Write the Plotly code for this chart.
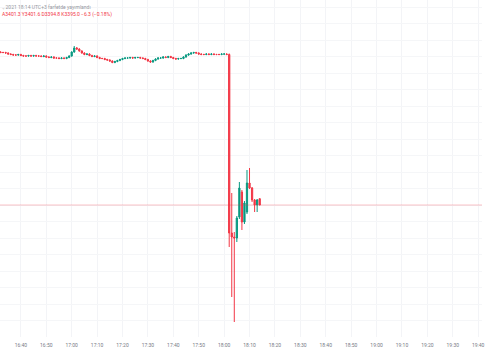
import pandas as pd
import plotly.graph_objects as go

opens = [
    3548, 3547.5, 3547.5, 3547, 3546, 3545.5, 3545, 3545, 3545.5, 3544.5,
    3544, 3544, 3544.5, 3544, 3544.5, 3544, 3544, 3543.5, 3544, 3543,
    3542.5, 3543, 3542, 3542, 3541.5, 3542, 3541.5, 3542.5, 3544, 3548,
    3552, 3551, 3549, 3547, 3545.5, 3546, 3544.5, 3543.5, 3544, 3542.5,
    3541.5, 3541.5, 3540.5, 3540, 3539, 3537.5, 3538.5, 3539.5, 3540.5, 3541.5,
    3542, 3542, 3542.5, 3542, 3542.5, 3542.5, 3542, 3541.5, 3540.5, 3539,
    3538, 3539.5, 3541, 3542, 3542, 3543, 3542.5, 3543.5, 3542.5, 3541.5,
    3541, 3541.5, 3541.5, 3543, 3545, 3546, 3547, 3547.5, 3547, 3546,
    3545.5, 3545.5, 3546, 3545.5, 3546, 3545.5, 3545.5, 3545.5, 3546, 3546,
    3545.5, 3367, 3363, 3362, 3383, 3408, 3378, 3388, 3417, 3412, 3400, 3395, 3401.3,
]
highs = [
    3548.7, 3548.2, 3548.2, 3547.7, 3546.7, 3546.2, 3545.7, 3546.2, 3546.2, 3545.2,
    3544.7, 3545.2, 3545.2, 3545.2, 3545.2, 3544.7, 3544.7, 3544.7, 3544.7, 3543.7,
    3543.7, 3543.7, 3542.7, 3542.7, 3542.7, 3542.7, 3543.2, 3544.7, 3548.7, 3554,
    3553, 3551.7, 3549.7, 3547.7, 3546.7, 3546.7, 3545.2, 3544.7, 3544.7, 3543.2,
    3542.2, 3542.2, 3541.2, 3540.7, 3539.7, 3539.2, 3540.2, 3541.2, 3542.2, 3542.7,
    3542.7, 3543.2, 3543.2, 3543.2, 3543.2, 3543.2, 3542.7, 3542.2, 3541.2, 3539.7,
    3540.2, 3541.7, 3542.7, 3542.7, 3543.7, 3543.7, 3544.2, 3544.2, 3543.2, 3542.2,
    3542.2, 3542.2, 3543.7, 3545.7, 3546.7, 3547.7, 3548.2, 3548.2, 3547.7, 3546.7,
    3546.2, 3546.7, 3546.7, 3546.7, 3546.7, 3546.2, 3546.2, 3546.7, 3546.7, 3546.7,
    3546.5, 3407, 3368, 3384, 3418, 3410, 3399, 3430, 3432, 3413, 3401, 3401, 3401.6,
]
lows = [
    3546.8, 3546.8, 3546.3, 3545.3, 3544.8, 3544.3, 3544.3, 3544.3, 3543.8, 3543.3,
    3543.3, 3543.3, 3543.3, 3543.3, 3543.3, 3543.3, 3542.8, 3542.8, 3542.3, 3541.8,
    3541.8, 3541.3, 3541.3, 3540.8, 3540.8, 3540.8, 3540.8, 3541.8, 3543.3, 3547.3,
    3550.3, 3548.3, 3546.3, 3544.8, 3544.8, 3543.8, 3542.8, 3542.8, 3541.8, 3540.8,
    3540.8, 3539.8, 3539.3, 3538.3, 3536.8, 3536.8, 3537.8, 3538.8, 3539.8, 3540.8,
    3541.3, 3541.3, 3541.3, 3541.3, 3541.8, 3541.3, 3540.8, 3539.8, 3538.3, 3537.3,
    3537.3, 3538.8, 3540.3, 3541.3, 3541.3, 3541.8, 3541.8, 3541.8, 3540.8, 3540.3,
    3540.3, 3540.8, 3540.8, 3542.3, 3544.3, 3545.3, 3546.3, 3546.3, 3545.3, 3544.8,
    3544.8, 3544.8, 3544.8, 3544.8, 3544.8, 3544.8, 3544.8, 3544.8, 3545.3, 3544.8,
    3353, 3303, 3278, 3358, 3381, 3370, 3376, 3386, 3411, 3398, 3388, 3388, 3394.8,
]
closes = [
    3547.5, 3547.5, 3547, 3546, 3545.5, 3545, 3545, 3545.5, 3544.5, 3544,
    3544, 3544.5, 3544, 3544.5, 3544, 3544, 3543.5, 3544, 3543, 3542.5,
    3543, 3542, 3542, 3541.5, 3542, 3541.5, 3542.5, 3544, 3548, 3552,
    3551, 3549, 3547, 3545.5, 3546, 3544.5, 3543.5, 3544, 3542.5, 3541.5,
    3541.5, 3540.5, 3540, 3539, 3537.5, 3538.5, 3539.5, 3540.5, 3541.5, 3542,
    3542, 3542.5, 3542, 3542.5, 3542.5, 3542, 3541.5, 3540.5, 3539, 3538,
    3539.5, 3541, 3542, 3542, 3543, 3542.5, 3543.5, 3542.5, 3541.5, 3541,
    3541.5, 3541.5, 3543, 3545, 3546, 3547, 3547.5, 3547, 3546, 3545.5,
    3545.5, 3546, 3545.5, 3546, 3545.5, 3545.5, 3545.5, 3546, 3546, 3545.5,
    3367, 3363, 3362, 3382, 3412, 3378, 3397, 3417, 3412, 3400, 3395, 3400, 3395.0,
]
start_time = "2021-09-07 16:32"
last_price = 3395.0
header_line1 = "., 2021 18:14 UTC+3 farfetde yayımlandı"
header_line2 = "A3401.3 Y3401.6 D3394.8 K3395.0 −6.3 (−0.18%)"

times = pd.date_range(start_time, periods=len(closes), freq="min")

UP = "#089981"
DOWN = "#f23645"

fig = go.Figure(go.Candlestick(
    x=times, open=opens, high=highs, low=lows, close=closes,
    increasing=dict(line=dict(color=UP, width=1), fillcolor=UP),
    decreasing=dict(line=dict(color=DOWN, width=1), fillcolor=DOWN),
    whiskerwidth=0,
    hoverinfo="skip",
))

fig.add_shape(type="line", xref="paper", x0=0, x1=1, yref="y", y0=last_price, y1=last_price,
              line=dict(color="rgba(242,54,69,0.3)", width=1))

fig.add_annotation(x=0, y=1, xref="paper", yref="paper", xanchor="left", yanchor="top",
                   text=header_line1, showarrow=False, yshift=-2,
                   font=dict(size=5, color="#9598a1", family="Roboto"))
fig.add_annotation(x=0, y=1, xref="paper", yref="paper", xanchor="left", yanchor="top",
                   text=header_line2, showarrow=False, yshift=-9,
                   font=dict(size=5, color="#f23645", family="Roboto"))

fig.update_layout(
    width=485, height=360,
    margin=dict(l=0, r=0, t=0, b=23),
    paper_bgcolor="white", plot_bgcolor="white",
    showlegend=False,
    font=dict(family="Roboto", size=5, color="#787b86"),
    xaxis=dict(
        type="date",
        range=["2021-09-07 16:31:47", "2021-09-07 19:41:30"],
        tick0="2021-09-07 16:40", dtick=600000, tickformat="%H:%M",
        showgrid=True, gridcolor="#f3f4f7", gridwidth=1,
        zeroline=False, showline=False, ticks="",
        ticklabelstandoff=4, ticklabeloverflow="allow",
        rangeslider=dict(visible=False),
        tickfont=dict(size=5, color="#787b86"),
    ),
    yaxis=dict(
        range=[3263, 3600],
        tick0=3593, dtick=16.5,
        showgrid=True, gridcolor="#f5f6f8", gridwidth=1,
        zeroline=False, showline=False, showticklabels=False, ticks="",
    ),
)

fig.write_html("out.html")
